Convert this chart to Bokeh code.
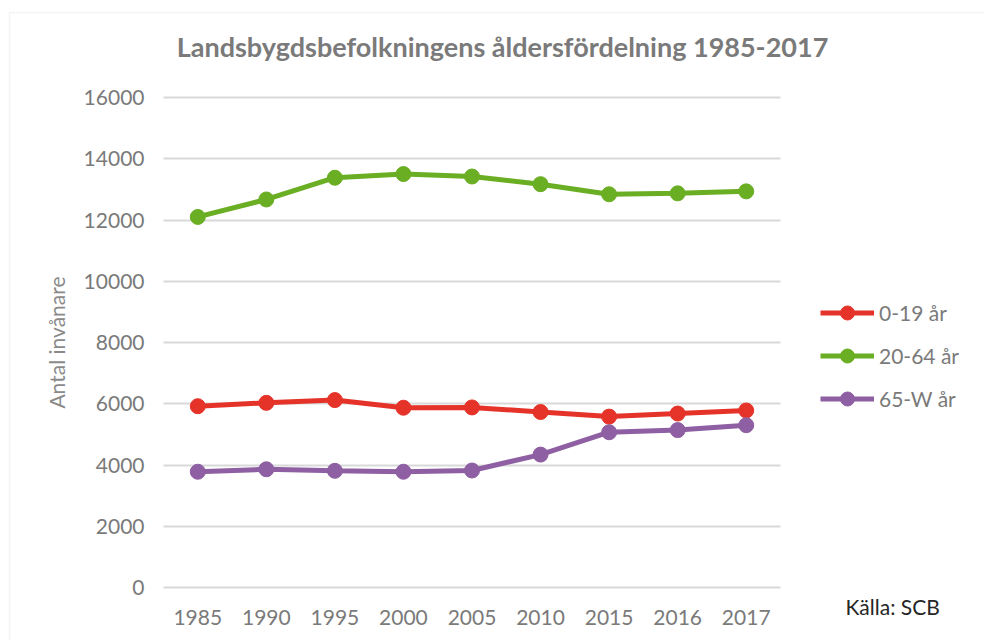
from bokeh.plotting import figure
from bokeh.models import (ColumnDataSource, Legend, LegendItem, Label, BoxAnnotation, Range1d,
                          SingleIntervalTicker, FixedTicker)
from bokeh.embed import file_html
from bokeh.resources import INLINE

years = ["1985", "1990", "1995", "2000", "2005", "2010", "2015", "2016", "2017"]
age_0_19 = [5920, 6030, 6120, 5870, 5880, 5730, 5580, 5680, 5780]
age_20_64 = [12100, 12670, 13380, 13500, 13420, 13170, 12840, 12870, 12935]
age_65_w = [3780, 3860, 3810, 3780, 3820, 4340, 5070, 5140, 5300]
series_names = ["0-19 år", "20-64 år", "65-W år"]
colors = ["#E5332A", "#6AAE23", "#8E5FA2"]

title_text = "Landsbygdsbefolkningens åldersfördelning 1985-2017"
source_text = "Källa: SCB"
y_label = "Antal invånare"

FONT = "Lato"
GREY = "#7a7a7a"

W, H = 984, 640
# plot-area geometry in pixels (layout only)
LEFT, RIGHT, TOP, BOTTOM = 163, 780, 97, 587
n = len(years)
px_per_cat = (RIGHT - LEFT) / n
px_per_unit = (BOTTOM - TOP) / 16000.0

x_start = -0.5 - LEFT / px_per_cat
x_end = n - 0.5 + (W - RIGHT) / px_per_cat
y_start = -(H - BOTTOM) / px_per_unit
y_end = 16000 + TOP / px_per_unit

xs = list(range(n))

p = figure(width=W, height=H, output_backend="svg", toolbar_location=None,
           x_range=Range1d(x_start, x_end), y_range=Range1d(y_start, y_end))
p.min_border_left = 0
p.min_border_right = 0
p.min_border_top = 0
p.min_border_bottom = 0
p.outline_line_color = None
p.background_fill_color = "white"
p.border_fill_color = "white"

p.xgrid.grid_line_color = None
yg = p.ygrid[0]
yg.grid_line_color = "#d9d9d9"
yg.grid_line_width = 2
yg.bounds = (0, 16000)
if "cross_bounds" in yg.properties():
    yg.cross_bounds = (-0.5, n - 0.5)

p.yaxis.ticker = SingleIntervalTicker(interval=2000)
p.yaxis.bounds = (0, 16000)
p.yaxis.fixed_location = -0.5
p.xaxis.ticker = FixedTicker(ticks=xs)
p.xaxis.major_label_overrides = {i: y for i, y in zip(xs, years)}
p.xaxis.fixed_location = 0

for ax in (p.xaxis[0], p.yaxis[0]):
    ax.axis_line_color = None
    ax.major_tick_line_color = None
    ax.minor_tick_line_color = None
    ax.major_label_text_font = FONT
    ax.major_label_text_font_size = "21px"
    ax.major_label_text_color = GREY
p.yaxis.major_label_standoff = 13
p.xaxis.major_label_standoff = 16
p.yaxis.axis_label = y_label
p.yaxis.axis_label_text_font = FONT
p.yaxis.axis_label_text_font_style = "normal"
p.yaxis.axis_label_text_font_size = "21px"
p.yaxis.axis_label_text_color = "#8a8a8a"
p.yaxis.axis_label_standoff = 12
p.yaxis.formatter.use_scientific = False

src = ColumnDataSource(dict(x=xs, a=age_0_19, b=age_20_64, c=age_65_w))
items = []
for key, name, col in zip(["a", "b", "c"], series_names, colors):
    l = p.line("x", key, source=src, line_color=col, line_width=5)
    s = p.scatter("x", key, source=src, size=15, fill_color=col, line_color=col)
    items.append(LegendItem(label=name, renderers=[l, s]))

legend = Legend(items=items, location=(820, 224), orientation="vertical",
                glyph_width=54, glyph_height=35, label_height=20, spacing=8,
                padding=0, margin=0, label_standoff=5,
                label_text_font=FONT, label_text_font_size="21px", label_text_color=GREY,
                border_line_color=None, background_fill_alpha=0)
p.add_layout(legend, "center")

title_x = -0.5 + (502 - LEFT) / px_per_cat
title_y = 16000 + (TOP - 46) / px_per_unit
p.add_layout(Label(x=title_x, y=title_y, text=title_text, text_align="center", text_baseline="middle",
                   text_font=FONT, text_font_size="27px", text_font_style="bold", text_color=GREY))
src_x = -0.5 + (845 - LEFT) / px_per_cat
src_y = -(606 - BOTTOM) / px_per_unit
p.add_layout(Label(x=src_x, y=src_y, text=source_text, text_align="left", text_baseline="middle",
                   text_font=FONT, text_font_size="21px", text_color="#262626"))

p.add_layout(BoxAnnotation(left=9, right=W + 20, top=H - 12, bottom=-20,
                           left_units="screen", right_units="screen", top_units="screen", bottom_units="screen",
                           fill_alpha=0, line_color="#dadada", line_width=1.5))

open("out.html", "w").write(file_html(p, INLINE))
